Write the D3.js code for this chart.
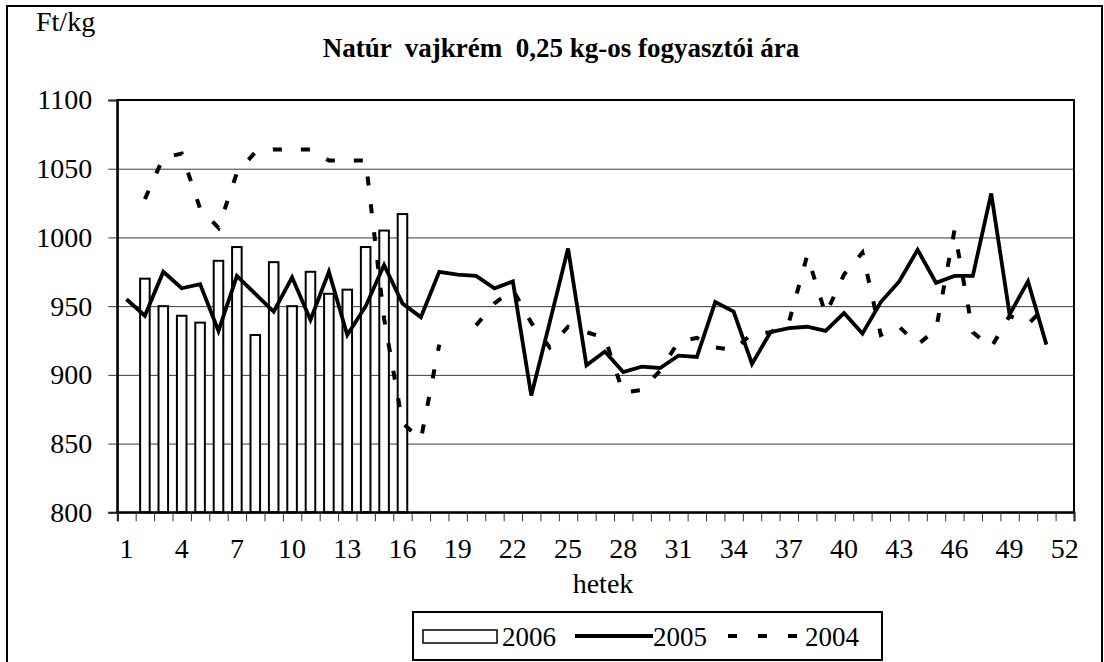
<!DOCTYPE html>
<html>
<head>
<meta charset="utf-8">
<script src="https://cdn.jsdelivr.net/npm/d3@7"></script>
<style>
  html, body { margin: 0; padding: 0; background: #fff; }
  svg { display: block; }
  text { font-family: "Liberation Serif", "Times New Roman", serif; fill: #000; }
</style>
</head>
<body>
<svg id="chart" width="1104" height="662"></svg>
<script>
// ---- data ----
const weeks = d3.range(1, 53);
const xTickLabels = [1, 4, 7, 10, 13, 16, 19, 22, 25, 28, 31, 34, 37, 40, 43, 46, 49, 52];
const yTicks = [800, 850, 900, 950, 1000, 1050, 1100];
const seriesNames = ["2006", "2005", "2004"];

// 2006 weekly prices (bars), weeks 1..16
const v2006 = [null, 970, 950, 943, 938, 983, 993, 929, 982, 950, 975, 959, 962, 993, 1005, 1017];

// 2005 weekly prices (solid line), weeks 1..51
const v2005 = [955, 943, 975, 963, 966, 932, 972, 959, 946, 971,
               940, 975, 929, 950, 980, 952, 942, 975, 973, 972,
               963, 968, 885, 938, 992, 907, 917, 902, 906, 905,
               914, 913, 953, 946, 908, 931, 934, 935, 932, 945,
               930, 953, 968, 991, 967, 972, 972, 1032, 944, 968,
               922, null];

// 2004 weekly prices (dashed line)
const v2004 = [null, 1028, 1058, 1061, 1021, 1007, 1047, 1062, 1064, 1064,
               1064, 1056, 1056, 1056, 941, 865, 853, 922, null, 936,
               952, 962, 938, 920, 935, 931, 927, 887, 889, 903,
               924, 927, 920, 918, 930, 931, 938, 987, 944, 973,
               989, 929, 935, 922, 933, 1005, 931, 920, 943, 937,
               950, null];

const title = "Natúr  vajkrém  0,25 kg-os fogyasztói ára";
const yUnit = "Ft/kg";
const xTitle = "hetek";

// ---- layout ----
const L = 117.3, R = 1074, T = 100, B = 512.3;
const svg = d3.select("#chart");

// outer frame
svg.append("rect").attr("x", 7).attr("y", 6).attr("width", 1095).attr("height", 662)
  .attr("fill", "none").attr("stroke", "#000").attr("stroke-width", 2);

const x = d3.scaleBand().domain(weeks).range([L, R]).padding(0);
const xBar = d3.scaleBand().domain(weeks).range([L, R]).paddingInner(0.48).paddingOuter(0.24);
const xEdge = d3.scaleLinear().domain([0, 52]).range([L, R]);
const y = d3.scaleLinear().domain([800, 1100]).range([B, T]);
const cx = w => x(w) + x.bandwidth() / 2;

// gridlines
const grid = svg.append("g").attr("transform", `translate(${L},0)`)
  .call(d3.axisLeft(y).tickValues(yTicks.slice(1)).tickSize(-(R - L)).tickFormat(""));
grid.select(".domain").remove();
grid.selectAll("line").attr("stroke", "#3a3a3a").attr("stroke-width", 1);

// bars 2006
svg.append("g").selectAll("rect")
  .data(weeks.map((w, i) => ({ w, v: v2006[i] })).filter(d => d.v != null))
  .join("rect")
  .attr("x", d => xBar(d.w))
  .attr("y", d => y(d.v))
  .attr("width", xBar.bandwidth())
  .attr("height", d => y(800) - y(d.v))
  .attr("fill", "#fff").attr("stroke", "#000").attr("stroke-width", 2);

// lines
const line = d3.line().defined(d => d.v != null).x(d => cx(d.w)).y(d => y(d.v));
svg.append("path")
  .datum(weeks.map((w, i) => ({ w, v: v2004[i] })))
  .attr("d", line).attr("fill", "none").attr("stroke", "#000")
  .attr("stroke-width", 4).attr("stroke-dasharray", "9,19");
svg.append("path")
  .datum(weeks.map((w, i) => ({ w, v: v2005[i] })))
  .attr("d", line).attr("fill", "none").attr("stroke", "#000")
  .attr("stroke-width", 3.8).attr("stroke-linejoin", "miter");

// plot border
svg.append("rect").attr("x", L).attr("y", T).attr("width", R - L).attr("height", B - T)
  .attr("fill", "none").attr("stroke", "#000").attr("stroke-width", 2);

// y axis
const yAxis = svg.append("g").attr("transform", `translate(${L},0)`)
  .call(d3.axisLeft(y).tickValues(yTicks).tickSize(9).tickPadding(16).tickFormat(d3.format("d")));
yAxis.select(".domain").attr("stroke", "#000").attr("stroke-width", 2);
yAxis.selectAll("line").attr("stroke", "#333");
yAxis.selectAll("text").attr("font-size", 28).attr("font-family", "Liberation Serif");

// x axis: boundary ticks
const xTicks = svg.append("g").attr("transform", `translate(0,${B})`)
  .call(d3.axisBottom(xEdge).tickValues(d3.range(0, 53)).tickSize(9).tickFormat(""));
xTicks.select(".domain").attr("stroke", "#000").attr("stroke-width", 2);
xTicks.selectAll("line").attr("stroke", "#333");

// x axis: labels centred in bands
const xLab = svg.append("g").attr("transform", `translate(0,${B})`)
  .call(d3.axisBottom(x).tickValues(xTickLabels).tickSize(0).tickPadding(26));
xLab.select(".domain").remove();
xLab.selectAll("text").attr("font-size", 28).attr("font-family", "Liberation Serif");

// titles
svg.append("text").attr("x", 561).attr("y", 57).attr("text-anchor", "middle")
  .style("white-space", "pre")
  .attr("font-size", 27).attr("font-weight", "bold").text(title);
svg.append("text").attr("x", 36).attr("y", 31).attr("font-size", 28).text(yUnit);
svg.append("text").attr("x", 603).attr("y", 593).attr("text-anchor", "middle")
  .attr("font-size", 28).text(xTitle);

// legend
const lg = svg.append("g");
lg.append("rect").attr("x", 413).attr("y", 612).attr("width", 469).attr("height", 48)
  .attr("fill", "#fff").attr("stroke", "#000").attr("stroke-width", 2);
const ly = 636;
lg.append("rect").attr("x", 423).attr("y", 630).attr("width", 74).attr("height", 13)
  .attr("fill", "#fff").attr("stroke", "#000").attr("stroke-width", 1.5);
lg.append("text").attr("x", 502).attr("y", ly + 10).attr("font-size", 27).text(seriesNames[0]);
lg.append("line").attr("x1", 575).attr("x2", 653).attr("y1", ly).attr("y2", ly)
  .attr("stroke", "#000").attr("stroke-width", 3.8);
lg.append("text").attr("x", 653).attr("y", ly + 10).attr("font-size", 27).text(seriesNames[1]);
lg.append("line").attr("x1", 728).attr("x2", 798).attr("y1", ly).attr("y2", ly)
  .attr("stroke", "#000").attr("stroke-width", 4).attr("stroke-dasharray", "9,21");
lg.append("text").attr("x", 805).attr("y", ly + 10).attr("font-size", 27).text(seriesNames[2]);
</script>
</body>
</html>
